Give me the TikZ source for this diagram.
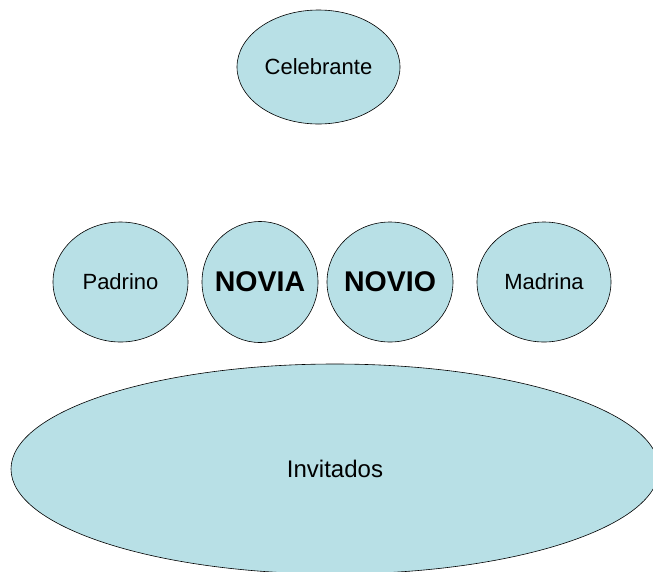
\documentclass[tikz,border=0pt]{standalone}
\usepackage{fontspec}
\setmainfont{Liberation Sans}
\usetikzlibrary{shapes.geometric}

\definecolor{seatblue}{RGB}{184,224,230}

\begin{document}
\begin{tikzpicture}[
		seat/.style={ellipse,draw,fill=seatblue,line width=0.6pt,inner sep=0pt,
			font=\fontsize{22}{26}\selectfont},
		couple/.style={seat,inner xsep=-8pt,
			font=\bfseries\fontsize{28.5}{33}\selectfont}
		]
		\useasboundingbox (0,0) rectangle (653pt,-571pt);

		\node[seat, minimum width=163pt, minimum height=114pt] (Cel) at (318.5pt,-67pt) {Celebrante};
		\node[seat, minimum width=135pt, minimum height=120pt, node distance=215pt,
		below of = Cel, xshift=-198pt] (Pad) {Padrino};
		\node[couple, minimum width=116pt, minimum height=121pt, node distance=139.5pt,
		right of = Pad] (Nva) {NOVIA};
		\node[couple, minimum width=126pt, minimum height=120pt, node distance=130pt,
		right of = Nva] (Nvo) {NOVIO};
		\node[seat, minimum width=134pt, minimum height=120pt, node distance=154pt,
		right of = Nvo] (Mad) {Madrina};
		\node[seat, minimum width=648pt, minimum height=210pt, node distance=187pt,
		below of = Nva, xshift=75pt, font=\fontsize{24}{28}\selectfont] (Inv) {Invitados};
	\end{tikzpicture}
\end{document}
